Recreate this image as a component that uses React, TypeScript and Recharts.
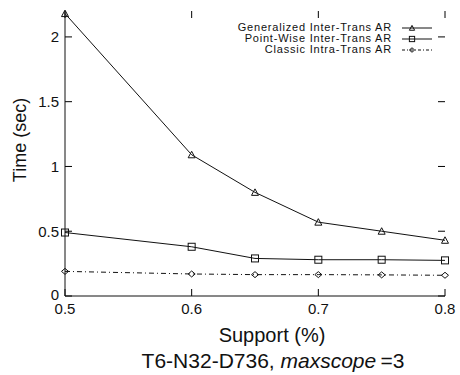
import React from 'react';
import { LineChart, Line, XAxis, YAxis, ReferenceLine } from 'recharts';

const support = [0.5, 0.6, 0.65, 0.7, 0.75, 0.8];
const generalized = [2.18, 1.09, 0.8, 0.57, 0.5, 0.43];
const pointWise = [0.49, 0.38, 0.29, 0.28, 0.28, 0.275];
const classic = [0.19, 0.17, 0.165, 0.165, 0.163, 0.16];

const xTicks = [0.5, 0.6, 0.7, 0.8];
const yTicks = [0, 0.5, 1, 1.5, 2];

const seriesNames = [
  'Generalized Inter-Trans AR',
  'Point-Wise Inter-Trans AR',
  'Classic Intra-Trans AR',
];

const data = support.map((s, i) => ({
  support: s,
  generalized: generalized[i],
  pointWise: pointWise[i],
  classic: classic[i],
}));

const FONT = '"Liberation Sans", Arial, Helvetica, sans-serif';
const INK = '#111';

const W = 460;
const H = 375;
const MARGIN = { top: 11, right: 15, bottom: 49, left: 0 };
const Y_AXIS_W = 65;
const X_AXIS_H = 30;
const X_DOMAIN: [number, number] = [0.5, 0.8];
const Y_DOMAIN: [number, number] = [0, 2.2];

// inward tick length (7px) expressed in data units of each axis
const TICK_PX = 7;
const plotW = W - MARGIN.left - MARGIN.right - Y_AXIS_W;
const plotH = H - MARGIN.top - MARGIN.bottom - X_AXIS_H;
const xTickLen = (TICK_PX * (X_DOMAIN[1] - X_DOMAIN[0])) / plotW;
const yTickLen = (TICK_PX * (Y_DOMAIN[1] - Y_DOMAIN[0])) / plotH;

type Shape = 'triangle' | 'square' | 'diamond';

const Marker = ({ shape, cx, cy, s = 1 }: { shape: Shape; cx: number; cy: number; s?: number }) => {
  if (shape === 'triangle') {
    return (
      <path
        d={`M${cx - 3.5 * s},${cy + 3 * s} L${cx + 3.5 * s},${cy + 3 * s} L${cx},${cy - 3.5 * s} Z`}
        fill="none"
        stroke={INK}
        strokeWidth={1}
      />
    );
  }
  if (shape === 'square') {
    return (
      <rect
        x={cx - 3.5 * s}
        y={cy - 3.5 * s}
        width={7 * s}
        height={7 * s}
        fill="none"
        stroke={INK}
        strokeWidth={1}
      />
    );
  }
  return (
    <path
      d={`M${cx - 3.5 * s},${cy} L${cx},${cy - 3 * s} L${cx + 3.5 * s},${cy} L${cx},${cy + 3 * s} Z`}
      fill="none"
      stroke={INK}
      strokeWidth={1}
    />
  );
};

const makeDot = (shape: Shape) => (props: any) => (
  <Marker key={`${shape}-${props.index}`} shape={shape} cx={props.cx} cy={props.cy} />
);

const BottomLabel = (props: any) => {
  const { x, y, payload } = props;
  return (
    <text x={x} y={y + 7} textAnchor="middle" dominantBaseline="hanging" fontSize={15} fontFamily={FONT} fill={INK}>
      {payload.value}
    </text>
  );
};

const LeftLabel = (props: any) => {
  const { x, y, payload } = props;
  const lift = payload.value === 0 ? -2 : 0;
  return (
    <text x={x - 6} y={y + lift} textAnchor="end" dominantBaseline="central" fontSize={15} fontFamily={FONT} fill={INK}>
      {payload.value}
    </text>
  );
};

const legendRows: { name: string; shape: Shape; dash?: string }[] = [
  { name: seriesNames[0], shape: 'triangle' },
  { name: seriesNames[1], shape: 'square' },
  { name: seriesNames[2], shape: 'diamond', dash: '3 2 1 2' },
];

const tickSegments = [
  ...xTicks.map((x) => [{ x, y: Y_DOMAIN[0] }, { x, y: Y_DOMAIN[0] + yTickLen }]),
  ...xTicks.map((x) => [{ x, y: Y_DOMAIN[1] }, { x, y: Y_DOMAIN[1] - yTickLen }]),
  ...yTicks.map((y) => [{ x: X_DOMAIN[0], y }, { x: X_DOMAIN[0] + xTickLen, y }]),
  ...yTicks.map((y) => [{ x: X_DOMAIN[1], y }, { x: X_DOMAIN[1] - xTickLen, y }]),
];

export default function App() {
  return (
    <div
      style={{
        position: 'absolute',
        left: 0,
        top: 0,
        width: W,
        height: H,
        background: '#fff',
        fontFamily: FONT,
        color: INK,
      }}
    >
      <LineChart width={W} height={H} data={data} margin={MARGIN}>
        <XAxis
          dataKey="support"
          type="number"
          domain={X_DOMAIN}
          ticks={xTicks}
          height={X_AXIS_H}
          tickSize={0}
          tickMargin={0}
          tickLine={false}
          stroke={INK}
          tick={<BottomLabel />}
          interval={0}
        />
        <XAxis
          xAxisId="top"
          orientation="top"
          dataKey="support"
          type="number"
          domain={X_DOMAIN}
          ticks={xTicks}
          height={0}
          tickLine={false}
          stroke={INK}
          tick={false}
        />
        <YAxis
          type="number"
          domain={Y_DOMAIN}
          ticks={yTicks}
          width={Y_AXIS_W}
          tickSize={0}
          tickMargin={0}
          tickLine={false}
          stroke={INK}
          tick={<LeftLabel />}
          interval={0}
        />
        <YAxis
          yAxisId="right"
          orientation="right"
          type="number"
          domain={Y_DOMAIN}
          ticks={yTicks}
          width={0}
          tickLine={false}
          stroke={INK}
          tick={false}
        />
        {tickSegments.map((seg, i) => (
          <ReferenceLine key={`tick-${i}`} segment={seg} stroke="#000" strokeWidth={1} ifOverflow="visible" />
        ))}
        <Line
          type="linear"
          dataKey="generalized"
          name={seriesNames[0]}
          stroke={INK}
          strokeWidth={1}
          dot={makeDot('triangle')}
          isAnimationActive={false}
        />
        <Line
          type="linear"
          dataKey="pointWise"
          name={seriesNames[1]}
          stroke={INK}
          strokeWidth={1}
          dot={makeDot('square')}
          isAnimationActive={false}
        />
        <Line
          type="linear"
          dataKey="classic"
          name={seriesNames[2]}
          stroke={INK}
          strokeWidth={1}
          strokeDasharray="5 3 1 3"
          dot={makeDot('diamond')}
          isAnimationActive={false}
        />
      </LineChart>

      {/* legend, top right inside the frame */}
      <div style={{ position: 'absolute', top: 22, right: 28, fontSize: 11, letterSpacing: 0.8 }}>
        {legendRows.map((r) => (
          <div
            key={r.name}
            style={{
              display: 'flex',
              alignItems: 'center',
              justifyContent: 'flex-end',
              height: 11,
              lineHeight: '11px',
            }}
          >
            <span style={{ whiteSpace: 'nowrap' }}>{r.name}</span>
            <svg width={30} height={10} style={{ marginLeft: 10, overflow: 'visible' }}>
              <line x1={0} y1={5} x2={30} y2={5} stroke={INK} strokeWidth={1} strokeDasharray={r.dash} />
              <Marker shape={r.shape} cx={10} cy={5} s={0.75} />
            </svg>
          </div>
        ))}
      </div>

      <div
        style={{
          position: 'absolute',
          left: 20,
          top: 140,
          transform: 'translate(-50%, -50%) rotate(-90deg)',
          fontSize: 18,
          whiteSpace: 'nowrap',
        }}
      >
        Time (sec)
      </div>
      <div
        style={{
          position: 'absolute',
          left: 272,
          top: 335,
          transform: 'translate(-50%, -50%)',
          fontSize: 20,
          whiteSpace: 'nowrap',
        }}
      >
        Support (%)
      </div>
      <div
        style={{
          position: 'absolute',
          left: 273,
          top: 361,
          transform: 'translate(-50%, -50%)',
          fontSize: 21,
          whiteSpace: 'nowrap',
        }}
      >
        T6-N32-D736, <i>maxscope</i>
        {'\u2009'}=3
      </div>
    </div>
  );
}
